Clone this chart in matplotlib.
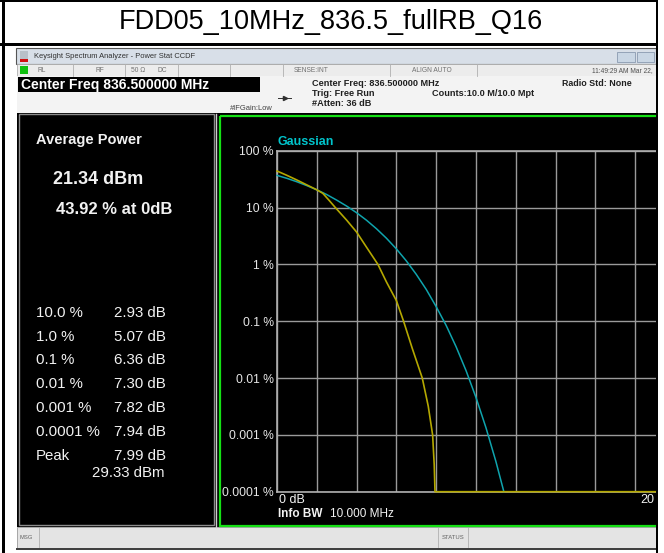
import matplotlib
matplotlib.use('Agg')
import matplotlib.pyplot as plt
from matplotlib.patches import Rectangle

plt.rcParams['font.family'] = ['Liberation Sans', 'DejaVu Sans']

W, H = 664, 553

title = 'FDD05_10MHz_836.5_fullRB_Q16'

meas_db = [0.0, 0.5, 1.0, 1.5, 2.0, 2.3, 2.6, 2.93, 3.5, 4.0, 4.5, 5.07, 5.5, 6.0,
           6.36, 6.8, 7.30, 7.6, 7.82, 7.90, 7.94, 20.0]
meas_pct = [43.92, 36.8, 30.5, 25.0, 20.5, 17.8, 13.6, 10.0, 6.0, 3.7, 2.0, 1.0, 0.49, 0.23,
            0.1, 0.033, 0.01, 0.0032, 0.001, 0.0003, 0.0001, 0.0001]

# gaussian reference trace
gauss_db = [0.0, 0.5, 1.0, 1.5, 2.0, 2.5, 3.0, 3.5, 4.0, 4.5, 5.0, 5.5, 6.0, 6.5, 7.0,
            7.5, 8.0, 8.5, 9.0, 9.5, 10.0, 10.5, 11.0, 11.4]
gauss_pct = [36.8, 32.6, 28.4, 24.3, 20.5, 16.9, 13.5, 10.6, 8.1, 5.97, 4.23, 2.88, 1.87,
             1.15, 0.666, 0.362, 0.18, 0.0843, 0.0355, 0.0135, 0.00454, 0.00134, 0.00034, 0.0001]

y_ticks = [100, 10, 1, 0.1, 0.01, 0.001, 0.0001]
y_tick_labels = ['100 %', '10 %', '1 %', '0.1 %', '0.01 %', '0.001 %', '0.0001 %']
x_ticks = [0, 2, 4, 6, 8, 10, 12, 14, 16, 18, 20]

stat_labels = ['10.0 %', '1.0 %', '0.1 %', '0.01 %', '0.001 %', '0.0001 %', 'Peak']
stat_values = ['2.93 dB', '5.07 dB', '6.36 dB', '7.30 dB', '7.82 dB', '7.94 dB', '7.99 dB']
peak_dbm = '29.33 dBm'
avg_power = '21.34 dBm'
avg_pct = '43.92 % at 0dB'

YELLOW = '#b4a800'
CYAN = '#0fa4ad'
GRID = '#9a9a9a'
PANEL_TXT = '#f2f2f2'


def box(a, x0, y0, x1, y1, fc, ec='none', lw=0, z=1):
    a.add_patch(Rectangle((x0, y0), x1 - x0, y1 - y0, facecolor=fc,
                          edgecolor=ec, linewidth=lw, zorder=z))


def txt(a, x, y, s, size, color='#202020', weight='normal', ha='left', z=3):
    a.text(x, y, s, fontsize=size, color=color, fontweight=weight, ha=ha,
           va='center', zorder=z)


def draw_frame(bg):
    # table cell borders around the screenshot
    box(bg, 0, 0, W, 1.5, 'black')
    box(bg, 2, 0, 4.5, H, 'black')
    box(bg, 0, 43, 657, 45.5, 'black')
    txt(bg, 331, 22, title, 19.5, color='black', ha='center')

    # window title bar
    box(bg, 16, 48, 656, 64, '#d8dfe8', ec='#555555', lw=0.8)
    box(bg, 20, 51, 28, 59, '#b8c0c8')
    box(bg, 20, 59, 28, 62, '#d01010')
    bg.text(34, 56.5, 'Keysight Spectrum Analyzer - Power Stat CCDF', fontsize=5.4,
            color='#303030', va='center')
    box(bg, 617, 52, 635, 62, '#c9d6e4', ec='#8a9ab0', lw=0.6)
    box(bg, 637, 52, 654, 62, '#c9d6e4', ec='#8a9ab0', lw=0.6)

    # status row
    box(bg, 17, 64, 656, 76, '#ececec', ec='#b0b0b0', lw=0.6)
    box(bg, 20, 65.5, 28, 74, '#10c010')
    for xs in [73, 125, 178, 230, 283, 390, 477]:
        bg.plot([xs, xs], [64, 76], color='#b0b0b0', lw=0.6, zorder=2)
    for x, s in [(37, 'RL'), (96, 'RF'), (131, '50 Ω'), (157, 'DC'),
                 (294, 'SENSE:INT'), (412, 'ALIGN AUTO')]:
        bg.text(x, 70.5, s, fontsize=4.8, color='#707070', va='center')
    bg.text(653, 70.5, '11:49:29 AM Mar 22,', fontsize=4.8, color='#505050',
            va='center', ha='right')

    # info row
    box(bg, 17, 76, 656, 113, '#f3f3f3')
    box(bg, 18, 77, 260, 92, 'black')
    txt(bg, 21, 84.5, 'Center Freq 836.500000 MHz', 10, color='white', weight='bold')
    for y, s in [(83, 'Center Freq: 836.500000 MHz'), (93, 'Trig: Free Run'),
                 (103, '#Atten: 36 dB')]:
        txt(bg, 312, y, s, 6.6, weight='bold')
    txt(bg, 432, 93, 'Counts:10.0 M/10.0 Mpt', 6.6, weight='bold')
    txt(bg, 562, 83, 'Radio Std: None', 6.4, weight='bold')
    txt(bg, 230, 108, '#IFGain:Low', 5.4, color='#404040')
    bg.plot([278, 291], [98, 98], color='#303030', lw=0.7, zorder=3)
    bg.plot([284.5], [98], marker='>', ms=3, color='#303030', zorder=3)

    # instrument screen
    box(bg, 17, 113, 656, 527, 'black')
    box(bg, 19, 114, 214, 525, 'black', ec='#8c8c8c', lw=1.0)
    bg.plot([216, 216], [114, 527], color='#cfcfcf', lw=1.0, zorder=2)
    box(bg, 219.5, 116, 700, 525.5, 'none', ec='#14e014', lw=1.6, z=2)

    # bottom message bar
    box(bg, 17, 527, 656, 548, '#e4e4e4', ec='#9a9a9a', lw=0.6)
    bg.plot([39, 39], [528, 547], color='#b0b0b0', lw=0.6, zorder=2)
    bg.plot([438, 438], [528, 547], color='#b0b0b0', lw=0.6, zorder=2)
    bg.plot([468, 468], [528, 547], color='#b0b0b0', lw=0.6, zorder=2)
    bg.text(20, 537.5, 'MSG', fontsize=4.2, color='#606060', va='center')
    bg.text(453, 537.5, 'STATUS', fontsize=4.2, color='#606060', va='center', ha='center')
    box(bg, 16, 548, 656, 550, '#404040')

    # left result panel
    txt(bg, 36, 140, 'Average Power', 10.5, color=PANEL_TXT, weight='bold')
    txt(bg, 53, 179, avg_power, 13, color=PANEL_TXT, weight='bold')
    txt(bg, 56, 209, avg_pct, 12, color=PANEL_TXT, weight='bold')
    row_y = [313, 337, 360, 384, 408, 432, 456]
    for y, lab, val in zip(row_y, stat_labels, stat_values):
        txt(bg, 36, y, lab, 10.8, color=PANEL_TXT)
        txt(bg, 114, y, val, 10.8, color=PANEL_TXT)
    txt(bg, 92, 473, peak_dbm, 10.8, color=PANEL_TXT)

    # labels around the trace area
    txt(bg, 278, 142, 'Gaussian', 9, color='#00c4cc', weight='bold')
    txt(bg, 279, 500, '0 dB', 9, color=PANEL_TXT)
    txt(bg, 278, 514, 'Info BW', 8.5, color=PANEL_TXT, weight='bold')
    txt(bg, 330, 514, '10.000 MHz', 8.5, color=PANEL_TXT)
    txt(bg, 640, 500, '20', 9, color=PANEL_TXT)


def draw_trace(fig):
    left, right, top, bottom = 277, 675, 150.7, 491.7
    ax = fig.add_axes([left / W, 1 - bottom / H, (right - left) / W, (bottom - top) / H],
                      zorder=2)
    ax.set_facecolor('black')
    ax.set_yscale('log')
    ax.set_xlim(0, 20)
    ax.set_ylim(0.0001, 100)
    ax.set_xticks(x_ticks)
    ax.set_xticklabels([])
    ax.set_yticks(y_ticks)
    ax.set_yticklabels(y_tick_labels)
    ax.minorticks_off()
    ax.tick_params(axis='both', length=0, pad=2.5)
    ax.tick_params(axis='y', labelsize=8.7, labelcolor='#e6e6e6')
    ax.grid(True, color=GRID, lw=1.0)
    for sp in ax.spines.values():
        sp.set_color('#b0b0b0')
        sp.set_linewidth(1.2)

    ax.plot(gauss_db, gauss_pct, color=CYAN, lw=1.1, clip_on=False, zorder=3)
    ax.plot(meas_db, meas_pct, color=YELLOW, lw=1.2, clip_on=False, zorder=4)
    return ax


def main():
    fig = plt.figure(figsize=(W / 100, H / 100), dpi=100)
    fig.patch.set_facecolor('white')

    bg = fig.add_axes([0, 0, 1, 1], zorder=0)
    bg.set_xlim(0, W)
    bg.set_ylim(H, 0)
    bg.axis('off')
    draw_frame(bg)

    draw_trace(fig)

    # right edge of the table cell covers the cut-off part of the screen
    ov = fig.add_axes([0, 0, 1, 1], zorder=5)
    ov.set_xlim(0, W)
    ov.set_ylim(H, 0)
    ov.axis('off')
    ov.patch.set_visible(False)
    box(ov, 655.5, 0, 658, H, 'black')
    box(ov, 658, 0, W, H, 'white')

    fig.savefig('out.png', dpi=100)


if __name__ == '__main__':
    main()
